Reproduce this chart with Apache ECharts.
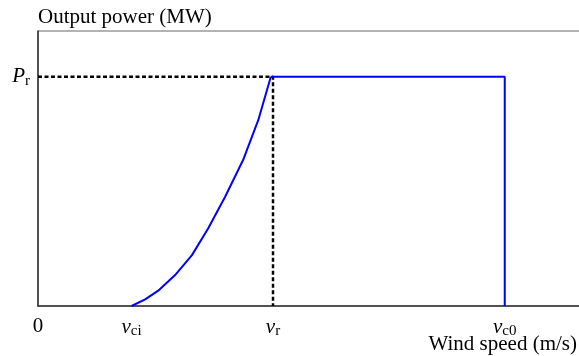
<!DOCTYPE html>
<html>
<head>
<meta charset="utf-8">
<script src="https://cdn.jsdelivr.net/npm/echarts@6/dist/echarts.min.js"></script>
<style>
  html, body { margin: 0; padding: 0; background: #fff; }
  #chart { width: 579px; height: 356px; }
</style>
</head>
<body>
<div id="chart"></div>
<script>
// wind speed positions (arbitrary units, 0..100) and rated power (=1)
const vCi = 17.2
const vR = 43.2
const vC0 = 85.8
const pR = 1

// rising part of the power curve
const curveX = [17.2, 19.7, 22.1, 25.2, 28.3, 31.3, 34.4, 37.7, 40.5, 42.8]
const curveY = [0, 0.029, 0.067, 0.135, 0.222, 0.339, 0.477, 0.637, 0.812, 1.0]

// tick labels
const xTicks = [0, vCi, vR, vC0]
const xTickLabels = ['0', '{v|v}{s|ci}', '{v|v}{s|r}', '{v|v}{s|c0}']
const yTicks = [pR]
const yTickLabels = ['{v|P}{s|r}']

const chart = echarts.init(document.getElementById('chart'))

const curve = curveX.map((x, i) => [x, curveY[i]])
const ratedPart = [[42.8, pR], [vC0, pR], [vC0, 0]]

const font = 'Liberation Serif'
const richLabel = {
  v: { fontFamily: font, fontStyle: 'italic', fontSize: 21, color: '#000' },
  s: { fontFamily: font, fontSize: 15, color: '#000', padding: [8, 0, 0, 0] }
}

const option = {
  animation: false,
  grid: {
    left: 38, right: -3, top: 31, bottom: 50,
    outerBoundsMode: 'none',
    containLabel: false,
    show: true, borderColor: '#666', borderWidth: 1
  },
  // x axis title sits under the tick labels at the right edge
  graphic: [{
    type: 'text',
    right: 2,
    top: 334,
    style: { text: 'Wind speed (m/s)', font: '21px "Liberation Serif"', fill: '#000' }
  }],
  xAxis: {
    type: 'value', min: 0, max: 100,
    axisLine: { show: true, lineStyle: { color: '#333', width: 1.5 } },
    axisTick: { show: false, customValues: xTicks },
    splitLine: { show: false },
    axisLabel: {
      customValues: xTicks,
      margin: 10,
      fontFamily: font, fontSize: 21, color: '#000',
      formatter: (val) => xTickLabels[xTicks.indexOf(val)],
      rich: richLabel
    }
  },
  yAxis: {
    type: 'value', min: 0, max: 1.2,
    name: 'Output power (MW)',
    nameLocation: 'end',
    nameGap: 3,
    nameTextStyle: {
      fontFamily: font, fontSize: 21, color: '#000',
      align: 'left', verticalAlign: 'bottom'
    },
    axisLine: { show: true, lineStyle: { color: '#333', width: 1.5 } },
    axisTick: { show: false, customValues: yTicks },
    splitLine: { show: false },
    axisLabel: {
      customValues: yTicks,
      margin: 8,
      formatter: (val) => yTickLabels[yTicks.indexOf(val)],
      rich: richLabel
    }
  },
  series: [
    {
      type: 'line',
      data: [[0, pR], [vR, pR], [vR, 0]],
      symbol: 'none',
      lineStyle: { color: '#000', width: 2.5, type: [4, 2.5] }
    },
    {
      type: 'line',
      data: curve,
      symbol: 'none',
      lineStyle: { color: '#0000ff', width: 2 }
    },
    {
      type: 'line',
      data: ratedPart,
      symbol: 'none',
      lineStyle: { color: '#0000ff', width: 2 }
    }
  ]
}

chart.setOption(option)
</script>
</body>
</html>
